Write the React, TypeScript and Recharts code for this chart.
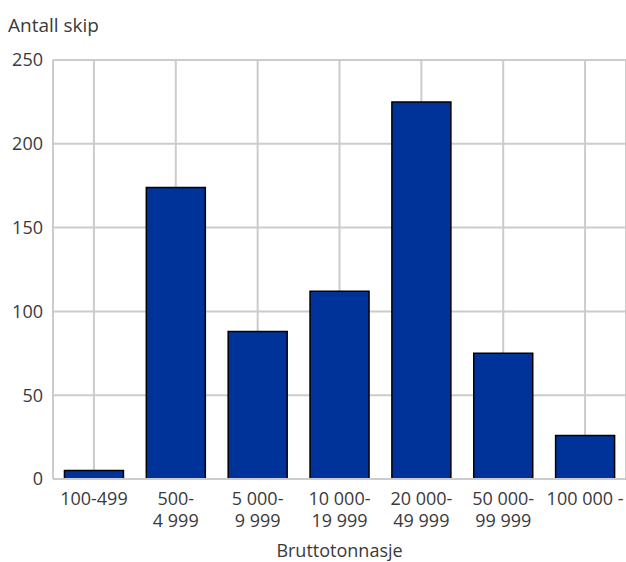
import { BarChart, Bar, XAxis, YAxis, CartesianGrid, Label } from "recharts"

const categories = ["100-499", "500-\n4 999", "5 000-\n9 999", "10 000-\n19 999", "20 000-\n49 999", "50 000-\n99 999", "100 000 -"]
const ships = [5, 174, 88, 112, 225, 75, 26]
const yTicks = [0, 50, 100, 150, 200, 250]

const data = categories.map((c, i) => ({ category: c, ships: ships[i] }))

const font = "'Open Sans', 'Noto Sans', sans-serif"
const size = 18
const ink = "#3a3a3a"

function CategoryTick({ x, y, payload }: { x?: number; y?: number; payload?: { value: string } }) {
  const lines = (payload?.value ?? "").split("\n")
  return (
    <text x={x} y={y} textAnchor="middle" fill={ink} fontSize={size} fontFamily={font}>
      {lines.map((l, i) => (
        <tspan key={i} x={x} dy={i === 0 ? 18 : 22}>
          {l}
        </tspan>
      ))}
    </text>
  )
}

export default function App() {
  return (
    <div style={{ position: "absolute", left: 0, top: 0, background: "#fff" }}>
      <BarChart
        width={626}
        height={562}
        data={data}
        margin={{ top: 60, right: 0, left: 0, bottom: 0 }}
        barCategoryGap="14%"
      >
        <text x={8} y={32} fontSize={19} fill={ink} fontFamily={font}>
          Antall skip
        </text>
        <CartesianGrid stroke="#cccccc" strokeWidth={2} />
        <XAxis
          dataKey="category"
          height={83}
          interval={0}
          tick={<CategoryTick />}
          tickLine={false}
          axisLine={{ stroke: "#cccccc", strokeWidth: 2 }}
        >
          <Label value="Bruttotonnasje" position="insideBottom" offset={5} fill={ink} fontSize={size} fontFamily={font} />
        </XAxis>
        <YAxis
          width={53}
          domain={[0, 250]}
          ticks={yTicks}
          interval={0}
          tickLine={false}
          axisLine={{ stroke: "#cccccc", strokeWidth: 2 }}
          tick={{ fill: ink, fontSize: size, fontFamily: font }}
          tickMargin={4}
        />
        <Bar dataKey="ships" fill="#003399" stroke="#000" strokeWidth={1.5} isAnimationActive={false} />
      </BarChart>
    </div>
  )
}
